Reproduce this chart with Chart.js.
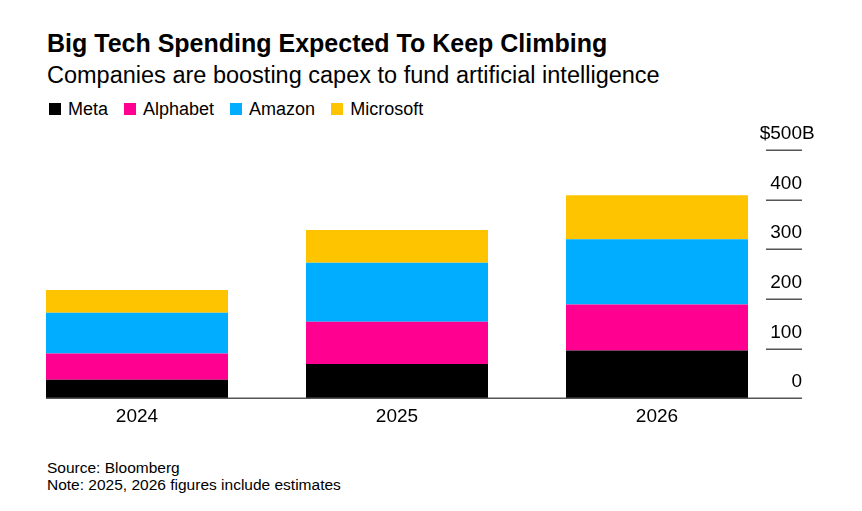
<!DOCTYPE html>
<html>
<head>
<meta charset="utf-8">
<script src="https://cdn.jsdelivr.net/npm/chart.js@4/dist/chart.umd.min.js"></script>
<style>
  body { margin: 0; width: 862px; height: 511px; background: #fff; position: relative; overflow: hidden;
         font-family: "Liberation Sans", Arial, sans-serif; color: #000; }
  .txt { position: absolute; left: 47px; white-space: nowrap; line-height: 1; }
  #title { top: 30.5px; font-size: 25px; font-weight: bold; }
  #subtitle { top: 64px; font-size: 23.5px; }
  #legend { top: 100px; font-size: 18px; display: flex; align-items: center; left: 49px; }
  #legend span.sw { display: inline-block; width: 12px; height: 12px; margin-right: 7px; }
  #legend span.item { display: flex; align-items: center; margin-right: 16px; }
  #source { top: 460px; font-size: 15.5px; }
  #note { top: 477px; font-size: 15.5px; }
  #chart { position: absolute; left: 0; top: 100px; }
</style>
</head>
<body>
<div class="txt" id="title">Big Tech Spending Expected To Keep Climbing</div>
<div class="txt" id="subtitle">Companies are boosting capex to fund artificial intelligence</div>
<div class="txt" id="legend"></div>
<canvas id="chart" width="862" height="340"></canvas>
<div class="txt" id="source">Source: Bloomberg</div>
<div class="txt" id="note">Note: 2025, 2026 figures include estimates</div>

<script>
// capex in $ billions
const years = ['2024', '2025', '2026'];
const meta = [37, 69, 96];
const alphabet = [53, 85, 93];
const amazon = [82, 119, 131];
const microsoft = [46, 66, 89];

const seriesNames = ['Meta', 'Alphabet', 'Amazon', 'Microsoft'];
const seriesColors = ['#000000', '#ff0091', '#00adff', '#ffc400'];

const yTicks = [0, 100, 200, 300, 400, 500];
const yTickLabels = ['0', '100', '200', '300', '400', '$500B'];

// legend
let legendHtml = '';
seriesNames.forEach((name, i) => {
    legendHtml += `<span class="item"><span class="sw" style="background:${seriesColors[i]}"></span>${name}</span>`;
});
document.getElementById('legend').innerHTML = legendHtml;

// right-hand axis drawn from the hidden y scale
const rightAxis = {
    id: 'rightAxis',
    afterDraw(chart) {
        const ctx = chart.ctx;
        const y = chart.scales.y;
        const bar0 = chart.getDatasetMeta(0).data[0];
        ctx.save();
        ctx.strokeStyle = '#555';
        ctx.lineWidth = 1.5;

        // baseline
        let y0 = Math.round(y.getPixelForValue(0)) + 0.25;
        ctx.beginPath();
        ctx.moveTo(bar0.x - bar0.width / 2, y0);
        ctx.lineTo(802, y0);
        ctx.stroke();

        ctx.font = '19px "Liberation Sans", Arial, sans-serif';
        ctx.fillStyle = '#000';
        ctx.textAlign = 'right';
        ctx.textBaseline = 'alphabetic';
        yTicks.forEach((v, i) => {
            const py = Math.round(y.getPixelForValue(v)) + 0.25;
            if (v > 0) {
                ctx.beginPath();
                ctx.moveTo(766, py);
                ctx.lineTo(802, py);
                ctx.stroke();
            }
            let label = yTickLabels[i];
            let x = 802;
            if (label.endsWith('B')) x += ctx.measureText('B').width;
            ctx.fillText(label, x, py - 11);
        });
        ctx.restore();
    }
};

const data = [meta, alphabet, amazon, microsoft];

new Chart(document.getElementById('chart').getContext('2d'), {
    type: 'bar',
    data: {
        labels: years,
        datasets: data.map((d, i) => ({
            label: seriesNames[i],
            data: d,
            backgroundColor: seriesColors[i],
            borderWidth: 0,
            categoryPercentage: 1,
            barPercentage: 0.7
        }))
    },
    options: {
        responsive: false,
        animation: false,
        layout: { padding: { top: 50, left: 7, right: 75, bottom: 5 } },
        plugins: {
            legend: { display: false },
            tooltip: { enabled: false }
        },
        scales: {
            x: {
                stacked: true,
                grid: { display: false, drawTicks: false },
                border: { display: false },
                ticks: {
                    padding: 7,
                    color: '#000',
                    font: { family: '"Liberation Sans", Arial, sans-serif', size: 19 }
                }
            },
            y: {
                stacked: true,
                display: false,
                min: 0,
                max: 500
            }
        }
    },
    plugins: [rightAxis]
});
</script>
</body>
</html>
